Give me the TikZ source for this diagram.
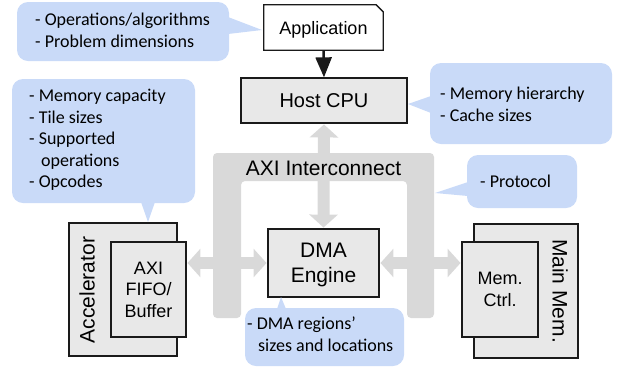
\documentclass[tikz,border=0pt]{standalone}
\usepackage{fontspec}
\setmainfont{Liberation Sans}
\newfontfamily\callfont{Carlito}
\usetikzlibrary{arrows.meta,calc}
\definecolor{callblue}{HTML}{C9DAF8}
\definecolor{boxgray}{HTML}{E8E8E8}
\definecolor{busgray}{HTML}{D9D9D9}
\definecolor{edgecol}{HTML}{1A1A1A}
\begin{document}
\begin{tikzpicture}[x=1pt,y=-1pt,
  box/.style={draw=edgecol,line width=1.3pt,fill=boxgray,inner sep=0pt,align=center},
  bubble/.style={fill=callblue,rounded corners=11pt,inner sep=0pt},
  calltext/.style={font=\callfont\fontsize{18}{21.6}\selectfont,align=left,anchor=north west,inner sep=0pt},
  bus/.style={line width=12pt,draw=busgray,shorten <=0.8pt,shorten >=0.8pt,
    {Triangle[length=13pt,width=28pt]}-{Triangle[length=13pt,width=28pt]}},
  big/.style={font=\fontsize{21}{25}\selectfont},
  mid/.style={font=\fontsize{18}{21.6}\selectfont},
]
\useasboundingbox (0,0) rectangle (618,368);

% AXI interconnect band
\fill[busgray,rounded corners=4pt] (213,318) -- (213,153) -- (434,153) -- (434,318) -- (407,318)
  -- (407,181) -- (241,181) -- (241,318) -- cycle;

% Application
\node[mid,minimum width=119,minimum height=45,inner sep=0pt,text depth=0pt] (app) at (323.5,27.5) {Application};
\draw[edgecol,line width=1.3pt] (app.south west) -- (app.north west) -- ($(app.north east)+(-7,0)$)
  -- ($(app.north east)+(0,7)$) -- (app.south east) -- cycle;

% Host CPU
\node[box,minimum width=166,minimum height=45,font=\fontsize{20}{24}\selectfont] (cpu) at (324,100.5) {Host CPU};

% DMA engine
\node[box,big,minimum width=111,minimum height=68,text depth=0pt] (dma) at (323.5,263) {DMA\\Engine};

% Accelerator
\node[box,minimum width=108,minimum height=133] (acc) at (123,289.5) {};
\node[big,rotate=90,inner sep=0pt] (acclabel) at (87,290) {Accelerator};
\node[box,mid,minimum width=75,minimum height=95] (fifo) at (148.5,289.5) {AXI\\FIFO/\\Buffer};

% Main memory
\node[box,minimum width=104,minimum height=134] (mainmem) at (526,291) {};
\node[big,rotate=-90,inner sep=0pt] (mmlabel) at (560,291) {Main Mem.};
\node[box,mid,minimum width=76,minimum height=95] (memctrl) at (500,289.5) {Mem.\\Ctrl.};

% connectors
\draw[edgecol,line width=2.5pt,-{Triangle[length=20pt,width=16pt]}] (app.south) -- (cpu.north);
\draw[bus] (cpu.south) -- (dma.north);
\draw[bus] (dma.west) -- (dma.west -| fifo.east);
\draw[bus] (dma.east) -- (dma.east -| memctrl.west);

% interconnect label on top of the bus
\node[big,inner sep=0pt] (axi) at (323.5,168) {AXI Interconnect};

% callouts
\node[bubble,minimum width=212,minimum height=59] (c1) at (123,31.5) {};
\fill[callblue] (228,17) -- (262,30) -- (228,34) -- cycle;
\node[calltext] (t1) at (35,13) {- Operations/algorithms\\- Problem dimensions};

\node[bubble,minimum width=183,minimum height=124] (c2) at (103.5,141) {};
\fill[callblue] (141,202) -- (148,222) -- (155,202) -- cycle;
\node[calltext] (t2) at (29,89) {- Memory capacity\\- Tile sizes\\- Supported\\\hspace*{12pt}operations\\- Opcodes};

\node[bubble,minimum width=182,minimum height=81] (c3) at (521,103.5) {};
\fill[callblue] (431,96) -- (408,104) -- (431,113) -- cycle;
\node[calltext] (t3) at (440,87) {- Memory hierarchy\\- Cache sizes};

\node[bubble,minimum width=110,minimum height=53] (c4) at (522,181.5) {};
\fill[callblue] (468,182) -- (435,193) -- (468,196) -- cycle;
\node[calltext] (t4) at (480,175) {- Protocol};

\node[bubble,minimum width=159,minimum height=58] (c5) at (324.5,337) {};
\fill[callblue] (277,309) -- (281,297) -- (286,309) -- cycle;
\node[calltext] (t5) at (247,317) {- DMA regions’\\\hspace*{11pt}sizes and locations};
\end{tikzpicture}
\end{document}
